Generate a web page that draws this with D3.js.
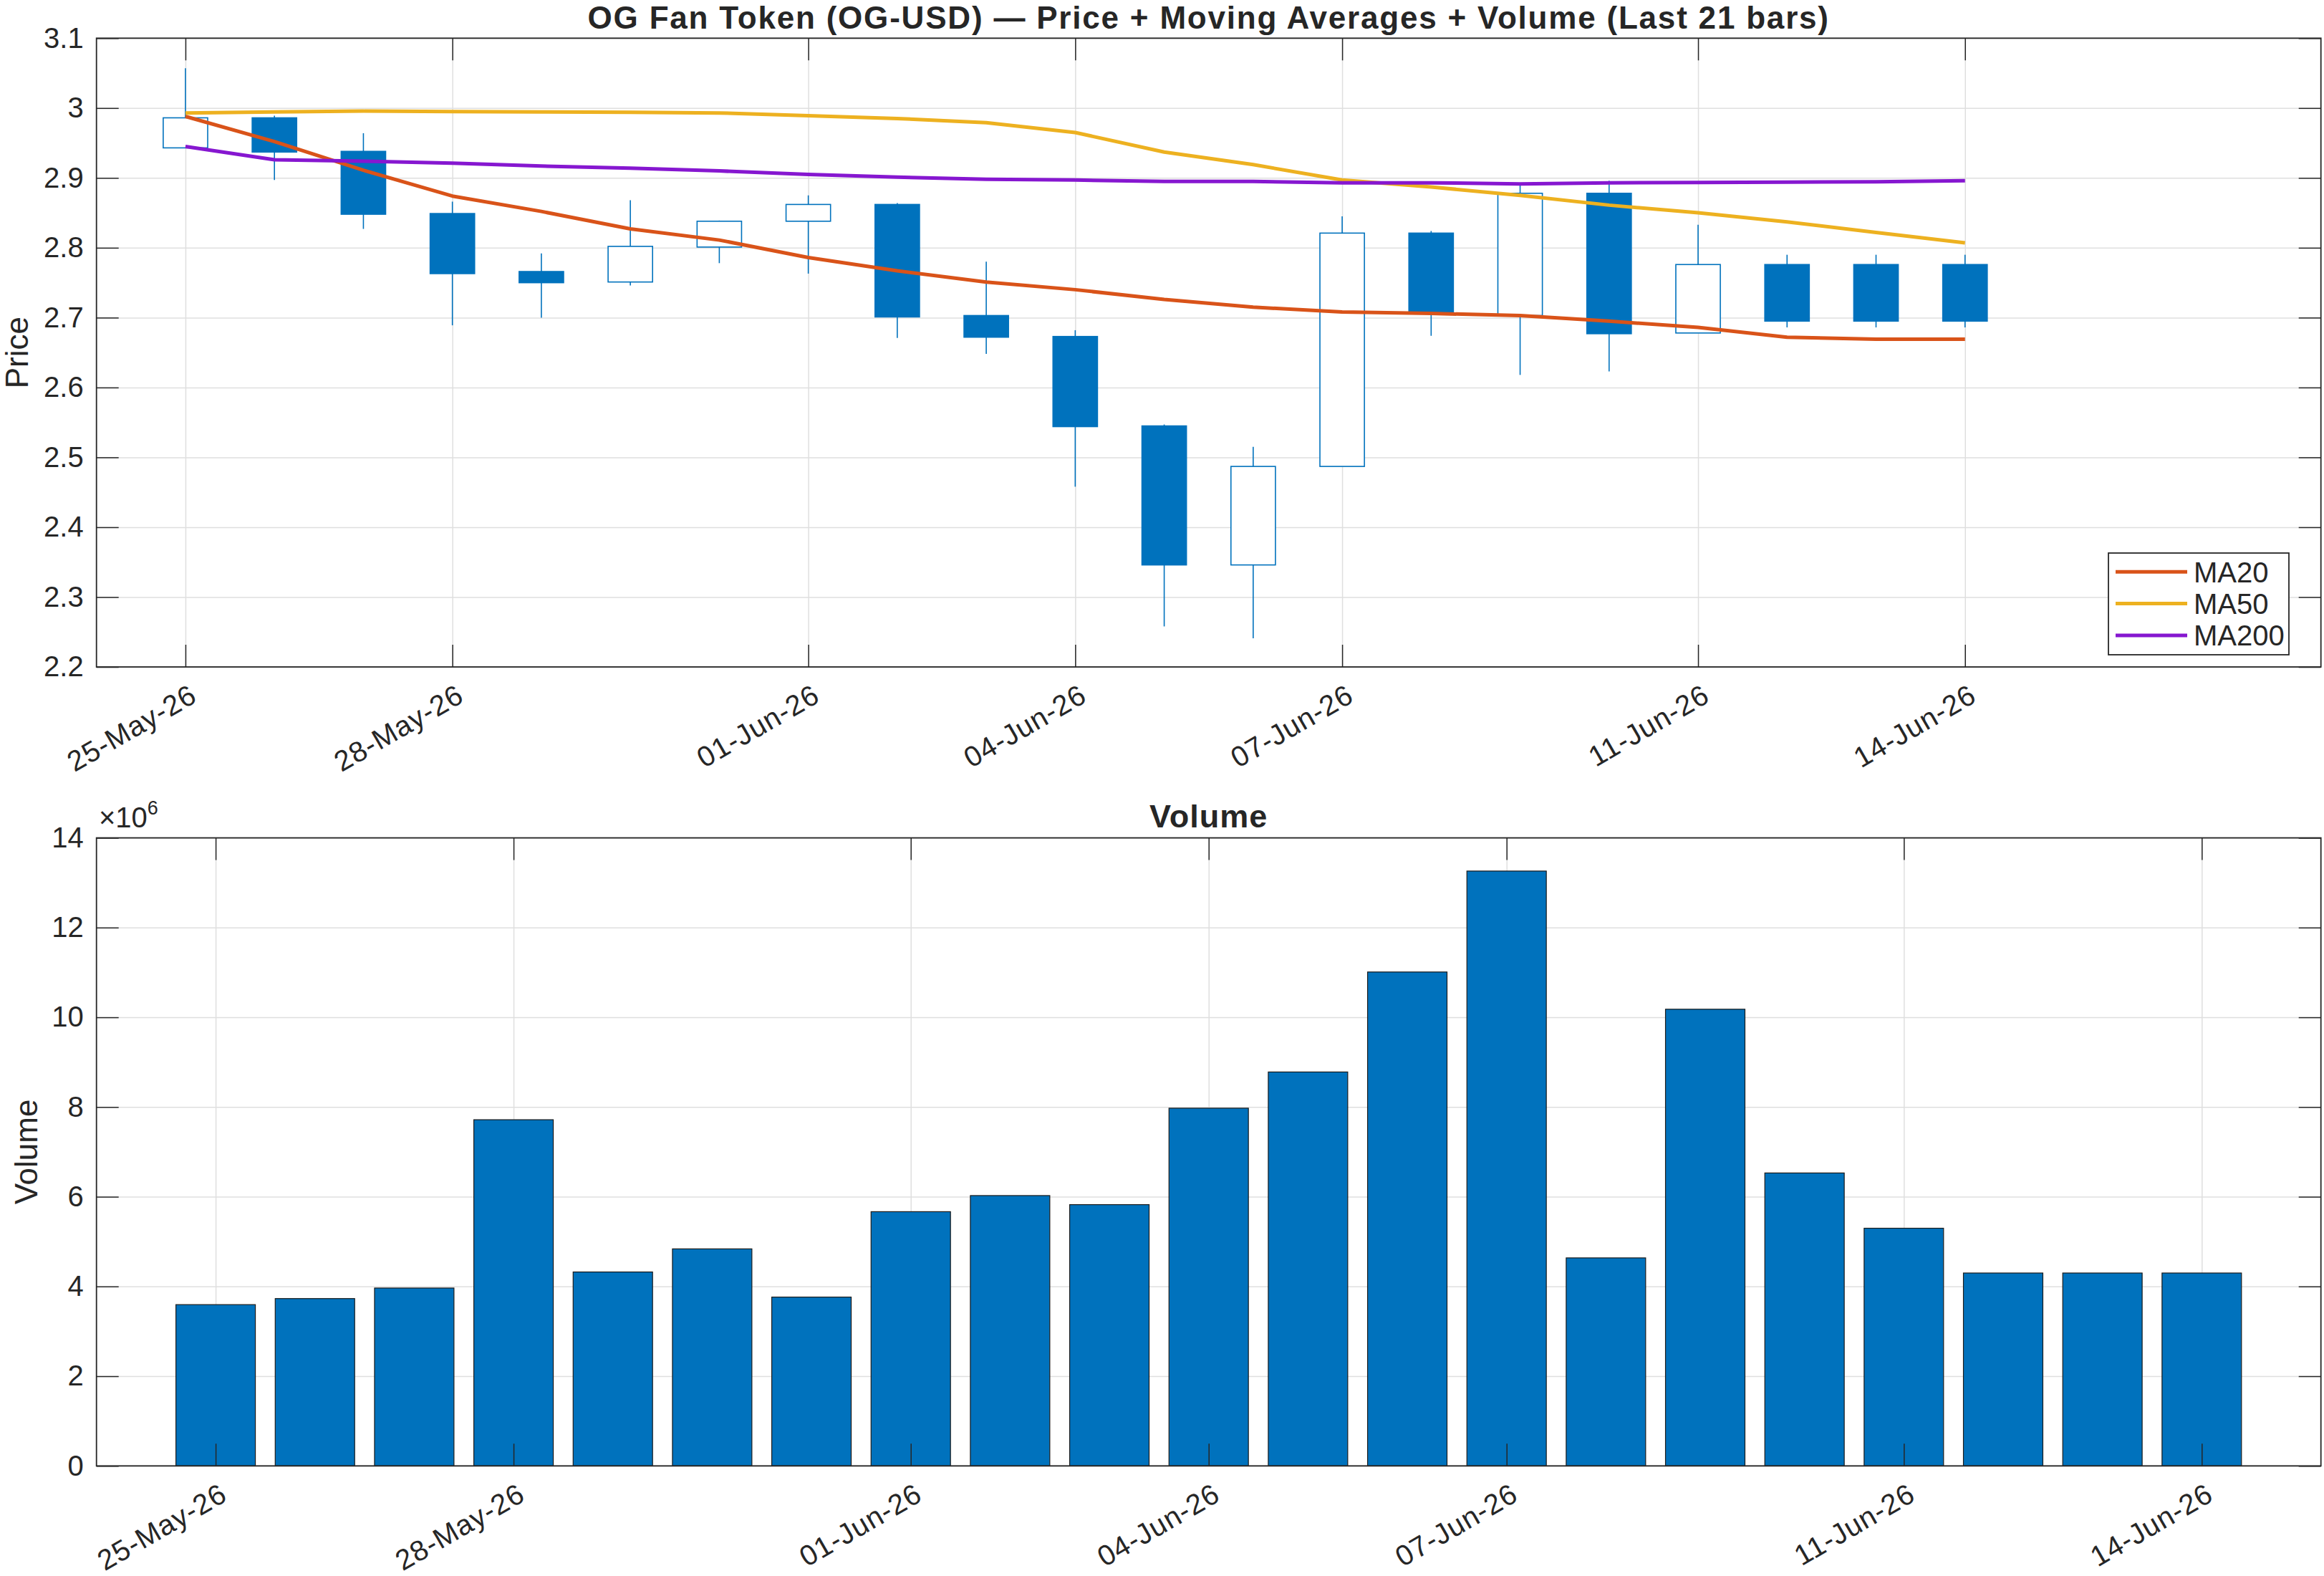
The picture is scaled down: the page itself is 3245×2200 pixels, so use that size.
<!DOCTYPE html>
<html>
<head>
<meta charset="utf-8">
<script src="https://cdn.jsdelivr.net/npm/d3@7"></script>
<style>
  body { margin: 0; background: #fff; }
  text { font-family: "Liberation Sans", Arial, Helvetica, sans-serif; fill: #262626; }
</style>
</head>
<body>
<svg id="chart" width="3245" height="2200"></svg>
<script>
// Dates of the 21 bars
const dates = [
  "2026-05-25", "2026-05-26", "2026-05-27", "2026-05-28", "2026-05-29", "2026-05-30", "2026-05-31",
  "2026-06-01", "2026-06-02", "2026-06-03", "2026-06-04", "2026-06-05", "2026-06-06", "2026-06-07",
  "2026-06-08", "2026-06-09", "2026-06-10", "2026-06-11", "2026-06-12", "2026-06-13", "2026-06-14"
];
// OHLC
const openP  = [2.943, 2.986, 2.938, 2.849, 2.766, 2.751, 2.801, 2.838, 2.862, 2.703, 2.673,
                2.545, 2.346, 2.487, 2.821, 2.703, 2.878, 2.678, 2.776, 2.776, 2.776];
const highP  = [3.057, 2.989, 2.964, 2.866, 2.792, 2.868, 2.839, 2.875, 2.864, 2.780, 2.682,
                2.547, 2.515, 2.845, 2.824, 2.890, 2.896, 2.833, 2.790, 2.790, 2.790];
const lowP   = [2.943, 2.897, 2.827, 2.689, 2.700, 2.746, 2.778, 2.763, 2.671, 2.648, 2.458,
                2.258, 2.241, 2.487, 2.674, 2.618, 2.623, 2.678, 2.686, 2.686, 2.686];
const closeP = [2.986, 2.937, 2.848, 2.763, 2.750, 2.802, 2.838, 2.862, 2.701, 2.672, 2.544,
                2.346, 2.487, 2.821, 2.706, 2.878, 2.677, 2.776, 2.695, 2.695, 2.695];
// Moving averages
const ma20  = [2.988, 2.952, 2.911, 2.874, 2.852, 2.827, 2.811, 2.786, 2.767, 2.751, 2.740,
               2.726, 2.715, 2.708, 2.706, 2.703, 2.695, 2.686, 2.672, 2.669, 2.669];
const ma50  = [2.993, 2.9945, 2.9956, 2.995, 2.9945, 2.994, 2.993, 2.989, 2.985, 2.979, 2.965,
               2.937, 2.919, 2.897, 2.887, 2.875, 2.861, 2.850, 2.837, 2.822, 2.807];
const ma200 = [2.945, 2.926, 2.924, 2.921, 2.917, 2.914, 2.910, 2.905, 2.901, 2.898, 2.897,
               2.895, 2.895, 2.893, 2.893, 2.8915, 2.893, 2.8935, 2.894, 2.8945, 2.896];
// Volume
const volume = [3.595e6, 3.73e6, 3.965e6, 7.717e6, 4.323e6, 4.838e6, 3.763e6, 5.667e6, 6.026e6, 5.824e6, 7.974e6,
                8.781e6, 11.01e6, 13.26e6, 4.637e6, 10.18e6, 6.53e6, 5.298e6, 4.30e6, 4.30e6, 4.30e6];
// Tick labels
const xTickLabels = ["25-May-26", "28-May-26", "01-Jun-26", "04-Jun-26", "07-Jun-26", "11-Jun-26", "14-Jun-26"];
const priceTicks = [2.2, 2.3, 2.4, 2.5, 2.6, 2.7, 2.8, 2.9, 3, 3.1];
const volTicks = [0, 2, 4, 6, 8, 10, 12, 14];

const parseDay = d3.utcParse("%Y-%m-%d");
const parseTick = d3.utcParse("%d-%b-%y");
const fmtTick = d3.utcFormat("%d-%b-%y");
const DAY = 864e5;

const bars = dates.map((d, i) => ({
  date: parseDay(d), o: openP[i], h: highP[i], l: lowP[i], c: closeP[i],
  ma20: ma20[i], ma50: ma50[i], ma200: ma200[i], vol: volume[i]
}));
const tickDates = xTickLabels.map(parseTick);
const t0 = bars[0].date.getTime();

const svg = d3.select("#chart");
const L = 134.7, R = 3240.7;
const top1 = 53.3, bot1 = 931;
const top2 = 1169.6, bot2 = 2046.3;
const axisCol = "#262626", gridCol = "#dfdfdf";
const blue = "#0072BD";

// scales
const x1 = d3.scaleUtc().domain([new Date(t0 - DAY), new Date(t0 + 24 * DAY)]).range([L, R]);
const y1 = d3.scaleLinear().domain([2.2, 3.1]).range([bot1, top1]);
const x2 = d3.scaleUtc().domain([new Date(t0 - 1.2 * DAY), new Date(t0 + 21.2 * DAY)]).range([L, R]);
const y2 = d3.scaleLinear().domain([0, 14e6]).range([bot2, top2]);

function drawGrid(x, y, yTop, yBot, yTickVals) {
  const g = svg.append("g");
  g.append("g").attr("transform", `translate(0,${yBot})`)
    .call(d3.axisBottom(x).tickValues(tickDates).tickSize(-(yBot - yTop)).tickFormat(""))
    .call(s => s.select(".domain").remove())
    .selectAll("line").attr("stroke", gridCol).attr("stroke-width", 1.5);
  g.append("g").attr("transform", `translate(${L},0)`)
    .call(d3.axisLeft(y).tickValues(yTickVals).tickSize(-(R - L)).tickFormat(""))
    .call(s => s.select(".domain").remove())
    .selectAll("line").attr("stroke", gridCol).attr("stroke-width", 1.5);
}

function drawAxes(x, y, yTop, yBot, yTickVals, yFmt) {
  const g = svg.append("g");
  const xb = g.append("g").attr("transform", `translate(0,${yBot})`)
    .call(d3.axisBottom(x).tickValues(tickDates).tickFormat(fmtTick).tickSize(-31).tickPadding(0));
  xb.selectAll("text")
    .attr("x", 0).attr("y", 0).attr("dy", "0.9em")
    .attr("text-anchor", "end")
    .attr("transform", "translate(0,16) rotate(-30)")
    .style("font-size", "40px").style("letter-spacing", "1px");
  g.append("g").attr("transform", `translate(0,${yTop})`)
    .call(d3.axisTop(x).tickValues(tickDates).tickFormat("").tickSize(-31));
  const yl = g.append("g").attr("transform", `translate(${L},0)`)
    .call(d3.axisLeft(y).tickValues(yTickVals).tickFormat(yFmt).tickSize(-31).tickPadding(18));
  yl.selectAll("text").style("font-size", "40px");
  g.append("g").attr("transform", `translate(${R},0)`)
    .call(d3.axisRight(y).tickValues(yTickVals).tickFormat("").tickSize(-31));
  g.selectAll(".domain").remove();
  g.selectAll(".tick line").attr("stroke", axisCol).attr("stroke-width", 1.5);
  g.selectAll(".tick text").attr("fill", axisCol).attr("font-family", null);
  g.append("rect").attr("x", L).attr("y", yTop).attr("width", R - L).attr("height", yBot - yTop)
    .attr("fill", "none").attr("stroke", axisCol).attr("stroke-width", 1.8);
}

// ---------- Price panel ----------
drawGrid(x1, y1, top1, bot1, priceTicks);

const halfBody = x1(new Date(t0 + 0.25 * DAY)) - x1(new Date(t0));
const candles = svg.append("g");
bars.forEach(d => {
  const cx = x1(d.date);
  const up = d.c > d.o;
  const bTop = Math.max(d.o, d.c), bBot = Math.min(d.o, d.c);
  if (d.h > bTop)
    candles.append("line").attr("x1", cx).attr("x2", cx).attr("y1", y1(d.h)).attr("y2", y1(bTop))
      .attr("stroke", blue).attr("stroke-width", 1.6);
  if (d.l < bBot)
    candles.append("line").attr("x1", cx).attr("x2", cx).attr("y1", y1(bBot)).attr("y2", y1(d.l))
      .attr("stroke", blue).attr("stroke-width", 1.6);
  candles.append("rect")
    .attr("x", cx - halfBody).attr("width", 2 * halfBody)
    .attr("y", y1(bTop)).attr("height", y1(bBot) - y1(bTop))
    .attr("fill", up ? "#fff" : blue)
    .attr("stroke", blue).attr("stroke-width", 1.6);
});

const maSeries = [
  { key: "ma20", name: "MA20", color: "#D95319" },
  { key: "ma50", name: "MA50", color: "#EDB120" },
  { key: "ma200", name: "MA200", color: "#8617D0" }
];
maSeries.forEach(s => {
  svg.append("path").datum(bars)
    .attr("fill", "none").attr("stroke", s.color).attr("stroke-width", 5)
    .attr("stroke-linejoin", "round")
    .attr("d", d3.line().x(d => x1(d.date)).y(d => y1(d[s.key])));
});

drawAxes(x1, y1, top1, bot1, priceTicks, d => d3.format("~g")(d));

// legend
const lg = svg.append("g");
lg.append("rect").attr("x", 2944).attr("y", 772).attr("width", 252).attr("height", 142)
  .attr("fill", "#fff").attr("stroke", axisCol).attr("stroke-width", 1.8);
maSeries.forEach((s, i) => {
  const yy = 798.3 + i * 44.3;
  lg.append("line").attr("x1", 2954).attr("x2", 3054).attr("y1", yy).attr("y2", yy)
    .attr("stroke", s.color).attr("stroke-width", 5);
  lg.append("text").attr("x", 3063).attr("y", yy).attr("dy", "0.36em")
    .style("font-size", "40px").text(s.name);
});

svg.append("text").attr("x", (L + R) / 2).attr("y", 40).attr("text-anchor", "middle")
  .style("font-size", "44px").style("font-weight", "bold").style("letter-spacing", "1.8px")
  .text("OG Fan Token (OG-USD) \u2014 Price + Moving Averages + Volume (Last 21 bars)");

svg.append("text").attr("transform", `translate(39,${(top1 + bot1) / 2}) rotate(-90)`)
  .attr("text-anchor", "middle").style("font-size", "44px").text("Price");

// ---------- Volume panel ----------
drawGrid(x2, y2, top2, bot2, volTicks.map(v => v * 1e6));

const halfBar = x2(new Date(t0 + 0.4 * DAY)) - x2(new Date(t0));
svg.append("g").selectAll("rect").data(bars).enter().append("rect")
  .attr("x", d => x2(d.date) - halfBar).attr("width", 2 * halfBar)
  .attr("y", d => y2(d.vol)).attr("height", d => y2(0) - y2(d.vol))
  .attr("fill", blue).attr("stroke", "#1a1a1a").attr("stroke-width", 1.2);

drawAxes(x2, y2, top2, bot2, volTicks.map(v => v * 1e6), d => d / 1e6);

const ex = svg.append("text").attr("x", 138).attr("y", 1155).style("font-size", "40px");
ex.append("tspan").text("\u00d710");
ex.append("tspan").attr("dy", -18).style("font-size", "27px").text("6");

svg.append("text").attr("x", (L + R) / 2).attr("y", 1155).attr("text-anchor", "middle")
  .style("font-size", "45px").style("font-weight", "bold").style("letter-spacing", "1px").text("Volume");

svg.append("text").attr("transform", `translate(52,${(top2 + bot2) / 2}) rotate(-90)`)
  .attr("text-anchor", "middle").style("font-size", "44px").text("Volume");
</script>
</body>
</html>
